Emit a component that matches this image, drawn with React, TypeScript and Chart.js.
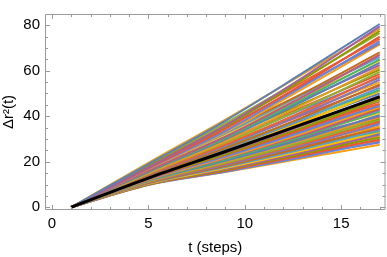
import React, { useEffect, useRef } from "react";
import { Chart, registerables } from "chart.js";

Chart.register(...registerables);

// time steps at which the trajectories were sampled
const T = [1, 5, 9, 13, 17];

// ensemble mean (black line)
const MEAN = [0, 12.8, 24.5, 36.5, 48.5];

// individual MSD trajectories, values at T
const TRAJ: number[][] = [
  [0, 19, 38, 59, 80.5],
  [0, 17.5, 36, 57, 79.5],
  [0, 19.5, 38.5, 58.5, 78.5],
  [0, 18, 35.5, 56, 77.5],
  [0, 18.8, 37, 56.5, 76.5],
  [0, 17.2, 34.5, 54, 75],
  [0, 18.5, 36, 55, 74],
  [0, 17, 33.5, 53, 73],
  [0, 18, 35, 53.5, 72],
  [0, 16.8, 33, 52, 71.5],
  [0, 17.5, 33.5, 50, 68],
  [0, 16, 31, 48.5, 67],
  [0, 17, 32.5, 49.5, 66],
  [0, 15.8, 30.5, 47.5, 65],
  [0, 16.8, 32, 48.5, 64.5],
  [0, 15.5, 30, 46.5, 63.5],
  [0, 16.5, 31, 47, 62.5],
  [0, 15, 29, 45, 61.5],
  [0, 16.2, 30.5, 45.5, 60.5],
  [0, 14.8, 28.5, 43.5, 59.5],
  [0, 15.8, 29.5, 44, 58.5],
  [0, 14.5, 27.5, 42, 57.5],
  [0, 15.6, 28.8, 43, 57],
  [0, 14.2, 27, 41, 56],
  [0, 15.2, 28, 41.5, 55],
  [0, 13.8, 26, 39.5, 54],
  [0, 15, 27.2, 40.5, 53.5],
  [0, 13.6, 25.5, 38.8, 52.5],
  [0, 14.6, 26.5, 39, 51.5],
  [0, 13.4, 24.8, 37.5, 51],
  [0, 14.3, 25.8, 38, 50],
  [0, 13.1, 24, 36, 49],
  [0, 14, 25, 36.8, 48],
  [0, 12.9, 23.3, 35, 47.5],
  [0, 13.8, 24.5, 36, 47],
  [0, 12.6, 23, 34.3, 46.5],
  [0, 13.6, 23.8, 34.8, 45.5],
  [0, 12.4, 22.3, 33.2, 45],
  [0, 13.5, 23.3, 34.2, 44.5],
  [0, 12.2, 21.8, 32.5, 44],
  [0, 13.2, 23, 33.5, 43.5],
  [0, 12, 21.5, 31.8, 43],
  [0, 13, 22.5, 32.8, 42.5],
  [0, 11.9, 21, 31.2, 42],
  [0, 12.9, 22.2, 32, 41.5],
  [0, 11.6, 20.4, 30, 40.5],
  [0, 12.6, 21.5, 31, 40],
  [0, 11.4, 20, 29.4, 39.5],
  [0, 12.5, 21, 30.2, 39],
  [0, 11.2, 19.5, 28.6, 38.5],
  [0, 12.3, 20.6, 29.6, 38],
  [0, 11.1, 19.2, 28, 37.5],
  [0, 12.2, 20.2, 28.8, 37],
  [0, 10.9, 18.7, 27.2, 36.5],
  [0, 12, 19.5, 27.8, 35.5],
  [0, 10.7, 18.1, 26.2, 35],
  [0, 11.8, 19.1, 27, 34.5],
  [0, 10.5, 17.7, 25.5, 34],
  [0, 11.6, 18.8, 26.4, 33.5],
  [0, 10.3, 17.2, 24.8, 33],
  [0, 11.4, 18.3, 25.6, 32.5],
  [0, 10.2, 16.8, 24.1, 32],
  [0, 11.3, 17.9, 24.9, 31.5],
  [0, 10, 16.4, 23.4, 31],
  [0, 11.1, 17.4, 24.2, 30.5],
  [0, 9.9, 16, 22.7, 30],
  [0, 10.9, 17, 23.5, 29.5],
  [0, 9.8, 15.6, 22, 29],
  [0, 10.7, 16.5, 22.8, 28.5],
  [0, 10, 15.5, 21.5, 27.5],
];

const X_TICKS = [0, 5, 10, 15];
const Y_TICKS = [0, 20, 40, 60, 80];
const X_MINOR = [1, 2, 3, 4, 6, 7, 8, 9, 11, 12, 13, 14, 16, 17];
const Y_MINOR = [5, 10, 15, 25, 30, 35, 45, 50, 55, 65, 70, 75];

const PALETTE = [
  "#5E81B5", "#E19C24", "#8FB032", "#EB6235", "#8778B3",
  "#C56E1A", "#5D9EC7", "#FFBF00", "#A5609D", "#929600",
  "#E95536", "#6685D9", "#F89F13", "#BC5B80", "#47B66D",
];

const FONT = "'Liberation Sans', Arial, sans-serif";

const framePlugin = {
  id: "mmaFrame",
  afterDatasetsDraw(chart: any) {
    const { ctx, chartArea, scales } = chart;
    const { left, right, top, bottom } = chartArea;
    const xs = scales.x;
    const ys = scales.y;
    ctx.save();
    ctx.strokeStyle = "#9a9a9a";
    ctx.lineWidth = 1;
    ctx.beginPath();
    ctx.rect(left + 0.5, top + 0.5, right - left - 1, bottom - top - 1);
    ctx.stroke();
    const tick = (vals: number[], len: number) => {
      for (const v of vals) {
        const px = Math.round(xs.getPixelForValue(v)) + 0.5;
        ctx.moveTo(px, bottom);
        ctx.lineTo(px, bottom - len);
        ctx.moveTo(px, top);
        ctx.lineTo(px, top + len);
      }
    };
    const ytick = (vals: number[], len: number) => {
      for (const v of vals) {
        const py = Math.round(ys.getPixelForValue(v)) + 0.5;
        ctx.moveTo(left, py);
        ctx.lineTo(left + len, py);
        ctx.moveTo(right, py);
        ctx.lineTo(right - len, py);
      }
    };
    ctx.beginPath();
    tick(X_TICKS, 5);
    tick(X_MINOR, 3);
    ytick(Y_TICKS, 5);
    ytick(Y_MINOR, 3);
    ctx.stroke();
    ctx.restore();
  },
};

export default function App() {
  const ref = useRef<HTMLCanvasElement | null>(null);
  useEffect(() => {
    document.body.style.margin = "0";
    if (!ref.current) return;
    const toPts = (arr: number[]) => arr.map((y, i) => ({ x: T[i], y }));
    const datasets: any[] = [
      {
        data: toPts(MEAN),
        borderColor: "#000000",
        borderWidth: 3,
        pointRadius: 0,
        cubicInterpolationMode: "monotone",
      },
      ...TRAJ.map((arr, i) => ({
        data: toPts(arr),
        borderColor: PALETTE[(i * 8) % PALETTE.length],
        borderWidth: 2,
        pointRadius: 0,
        cubicInterpolationMode: "monotone",
      })),
    ];
    const chart = new Chart(ref.current, {
      type: "line",
      data: { datasets },
      plugins: [framePlugin],
      options: {
        animation: false,
        responsive: false,
        events: [],
        layout: { padding: { top: 0.5, right: 1.5, left: 0, bottom: 0 } },
        plugins: { legend: { display: false }, tooltip: { enabled: false } },
        scales: {
          x: {
            type: "linear",
            min: -0.36,
            max: 17.3,
            afterBuildTicks: (s: any) => {
              s.ticks = X_TICKS.map((v) => ({ value: v }));
            },
            afterFit: (s: any) => {
              s.height = 47;
            },
            grid: { display: false, drawTicks: false },
            border: { display: false },
            ticks: {
              autoSkip: false,
              maxRotation: 0,
              padding: 5,
              color: "#000",
              font: { family: FONT, size: 15 },
            },
            title: {
              display: true,
              text: "t (steps)",
              color: "#000",
              font: { family: FONT, size: 15 },
              padding: { top: 0, bottom: 0 },
            },
          },
          y: {
            type: "linear",
            min: -1.2,
            max: 84.9,
            afterBuildTicks: (s: any) => {
              s.ticks = Y_TICKS.map((v) => ({ value: v }));
            },
            afterFit: (s: any) => {
              s.width = 45;
            },
            grid: { display: false, drawTicks: false },
            border: { display: false },
            ticks: {
              autoSkip: false,
              padding: 5,
              color: "#000",
              font: { family: FONT, size: 15 },
            },
            title: {
              display: true,
              text: "Δr²(t)",
              color: "#000",
              font: { family: FONT, size: 15 },
              padding: { top: 0, bottom: 0 },
            },
          },
        },
      } as any,
    });
    return () => chart.destroy();
  }, []);
  return <canvas ref={ref} width={387} height={257} style={{ display: "block" }} />;
}
